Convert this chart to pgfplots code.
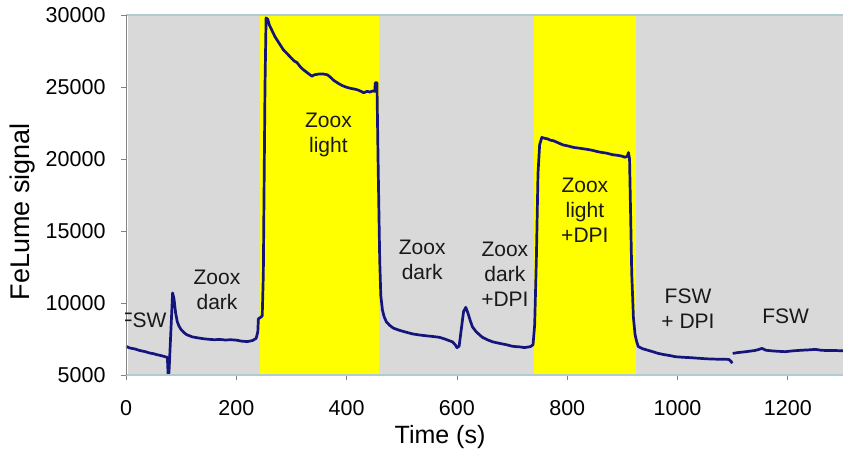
\documentclass[border=0pt]{standalone}
\usepackage{pgfplots}
\pgfplotsset{compat=1.18}
\usepackage{fontspec}
\setmainfont{Liberation Sans}
\definecolor{bggray}{RGB}{217,217,217}
\definecolor{zoox}{RGB}{255,255,0}
\definecolor{trace}{RGB}{20,20,122}
\definecolor{axisblue}{RGB}{176,204,210}
\definecolor{axisgray}{RGB}{130,130,130}
\begin{document}
\begin{tikzpicture}
\path[use as bounding box] (-126bp,-80bp) rectangle (717bp,375bp);
\begin{axis}[
    at={(0,0)}, anchor=south west,
    scale only axis,
    width=717bp, height=360bp,
    xmin=0, xmax=1300,
    ymin=5000, ymax=30000,
    xtick={0,200,...,1200},
    ytick={5000,10000,...,30000},
    scaled ticks=false,
    /pgf/number format/1000 sep={},
    /pgf/number format/assume math mode=true,
    tick label style={font=\fontsize{21.5bp}{25bp}\selectfont},
    tick align=outside,
    tick pos=left,
    major tick length=5bp,
    tick style={axisgray, line width=0.8bp},
    axis line style={draw=none},
    xticklabel style={yshift=-17bp},
    yticklabel style={xshift=-12bp},
    xlabel={Time (s)},
    ylabel={FeLume signal},
    every axis x label/.style={at={(axis description cs:0.438,-0.172)},anchor=center,font=\fontsize{25bp}{30bp}\selectfont},
    every axis y label/.style={at={(axis description cs:-0.1437,0.454)},rotate=90,anchor=center,font=\fontsize{27bp}{32bp}\selectfont},
    clip=true,
]
% background and light periods
\addplot[fill=bggray, draw=none] coordinates {(3,5000) (1300,5000) (1300,30000) (3,30000)} -- cycle;
\addplot[fill=zoox, draw=none] coordinates {(243,5000) (458,5000) (458,30000) (243,30000)} -- cycle;
\addplot[fill=zoox, draw=none] coordinates {(739,5000) (924,5000) (924,30000) (739,30000)} -- cycle;

% FeLume trace
\addplot[trace, line width=2.7bp, line join=round] coordinates {
(0,7000)(5,6900)(10,6850)(15,6820)(20,6760)(25,6700)(30,6660)(35,6620)(40,6560)(45,6510)
(50,6480)(55,6420)(60,6380)(65,6330)(70,6280)(75,6220)(76.5,4900)(78,5200)(84.5,10700)
(87,10300)(90,9300)(93,8700)(96,8400)(100,8150)(105,7950)(110,7800)(120,7650)(130,7580)
(140,7520)(150,7480)(160,7450)(170,7470)(180,7430)(190,7450)(200,7420)(210,7350)(220,7320)
(230,7400)(236,7550)(239,8000)(240,8900)(244,9000)(247,9100)(249,12000)(252,25000)(254,29800)
(257,29700)(260,29300)(265,28900)(270,28500)(275,28200)(280,27900)(285,27600)(290,27400)
(295,27200)(300,27000)(305,26800)(310,26700)(315,26450)(320,26250)(325,26100)(330,25950)
(337,25750)(342,25850)(350,25900)(358,25900)(365,25850)(370,25700)(377,25450)(385,25250)
(392,25100)(400,24980)(408,24900)(415,24850)(420,24800)(426,24700)(431,24600)(437,24700)
(442,24650)(447,24720)(451,24700)(452,25300)(455,25300)(457,20000)(460,13000)(462,10500)
(465,9500)(468,9050)(472,8700)(478,8450)(485,8250)(496,8100)(510,7950)(520,7850)(532,7780)
(545,7720)(555,7680)(568,7620)(578,7500)(585,7400)(592,7300)(597,7100)(600,6900)(604,7000)
(608,8200)(612,9400)(616,9700)(620,9300)(624,8800)(628,8350)(635,8000)(646,7620)(655,7450)
(665,7300)(677,7200)(690,7100)(700,7000)(707,6970)(715,6950)(722,6900)(733,6970)(738,7100)
(741,8500)(744,13000)(747,19000)(750,21000)(754,21500)(758,21450)(764,21400)(770,21300)
(775,21270)(782,21150)(788,21050)(793,20970)(802,20900)(812,20800)(822,20750)(836,20670)
(846,20600)(856,20500)(864,20450)(872,20400)(882,20300)(892,20250)(899,20200)(905,20120)
(909,20200)(911,20450)(913,20000)(915,16000)(917,12000)(920,9000)(923,7800)(926,7300)
(929,6970)(937,6820)(946,6720)(955,6620)(965,6500)(975,6420)(986,6350)(996,6270)(1010,6230)
(1025,6200)(1039,6160)(1055,6120)(1070,6100)(1087,6090)(1093,6080)(1097,5950)(1099,5810)
};
\addplot[trace, line width=2.7bp, line join=round] coordinates {
(1100,6500)(1110,6560)(1120,6600)(1130,6650)(1140,6700)(1148,6780)(1153,6850)(1160,6720)
(1170,6680)(1180,6650)(1195,6620)(1210,6680)(1225,6720)(1240,6750)(1250,6780)(1260,6720)
(1270,6700)(1285,6700)(1300,6680)
};

% axis lines
\draw[axisblue, line width=1.5bp] (rel axis cs:0,1) -- (rel axis cs:1,1);
\draw[axisblue, line width=1.5bp] (rel axis cs:0,0) -- (rel axis cs:1,0);
\draw[axisgray, line width=0.8bp] (rel axis cs:0,0) -- (rel axis cs:0,1);

% annotations
\begin{scope}[every node/.style={align=center, font=\fontsize{21bp}{25bp}\selectfont, text=black!90}]
\node at (axis cs:31,8820) {FSW};
\node at (axis cs:165,10900) {Zoox\\dark};
\node at (axis cs:367,21670) {Zoox\\light};
\node at (axis cs:537,13000) {Zoox\\dark};
\node at (axis cs:687,11980) {Zoox\\dark\\+DPI};
\node at (axis cs:832,16460) {Zoox\\light\\+DPI};
\node at (axis cs:1019,9580) {FSW\\+ DPI};
\node at (axis cs:1196,9100) {FSW};
\end{scope}
\end{axis}
\end{tikzpicture}
\end{document}
